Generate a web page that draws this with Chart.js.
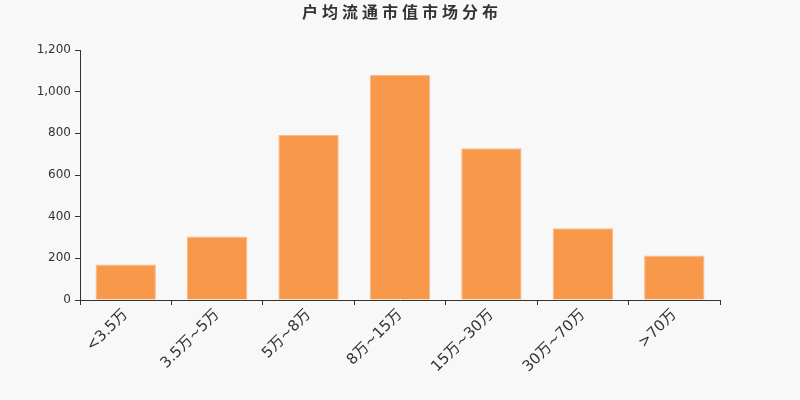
<!DOCTYPE html>
<html>
<head>
<meta charset="utf-8">
<script src="https://cdn.jsdelivr.net/npm/chart.js@4/dist/chart.umd.min.js"></script>
<style>
  body { margin: 0; background: #f8f8f8; }
  #wrap { width: 800px; height: 400px; }
</style>
</head>
<body>
<div id="wrap"><canvas id="marketChart" width="800" height="400"></canvas></div>
<script>
// Chart data
const categories = ['<3.5万', '3.5万~5万', '5万~8万', '8万~15万', '15万~30万', '30万~70万', '>70万'];
const holderCounts = [171, 305, 792, 1080, 728, 344, 214];
const yTicks = [0, 200, 400, 600, 800, 1000, 1200];
const chartTitle = '户均流通市值市场分布';

const FONT = '"DejaVu Sans", "Noto Sans CJK SC", sans-serif';

// background + spaced-out title (Chart.js title has no letter spacing)
const decorPlugin = {
    id: 'decor',
    beforeDraw(chart) {
        const c = chart.ctx;
        c.save();
        c.fillStyle = '#f8f8f8';
        c.fillRect(0, 0, chart.width, chart.height);
        c.restore();
    },
    afterDraw(chart) {
        const c = chart.ctx;
        c.save();
        c.font = 'bold 16px ' + FONT;
        c.fillStyle = '#333';
        c.textBaseline = 'middle';
        c.textAlign = 'left';
        c.letterSpacing = '4px';
        const w = c.measureText(chartTitle).width - 4;
        c.fillText(chartTitle, chart.width / 2 - w / 2, 14);
        c.restore();
    }
};

const ctx = document.getElementById('marketChart').getContext('2d');
const marketChart = new Chart(ctx, {
    type: 'bar',
    data: {
        labels: categories,
        datasets: [{
            data: holderCounts,
            backgroundColor: '#f7984a',
            borderColor: '#fbb886',
            borderWidth: 1,
            categoryPercentage: 1,
            barPercentage: 0.66
        }]
    },
    options: {
        responsive: false,
        animation: false,
        layout: { padding: { left: 0, right: 80, top: 50, bottom: 0 } },
        plugins: {
            legend: { display: false },
            tooltip: { enabled: false },
            title: { display: false }
        },
        scales: {
            x: {
                border: { color: '#333', width: 1 },
                grid: { display: true, drawOnChartArea: false, offset: true, tickLength: 5, color: '#333' },
                ticks: {
                    color: '#333',
                    font: { family: FONT, size: 15 },
                    minRotation: 45,
                    maxRotation: 45,
                    padding: 1
                },
                afterFit(scale) { scale.height = 100; }
            },
            y: {
                min: 0,
                max: 1200,
                afterBuildTicks(scale) { scale.ticks = yTicks.map(v => ({ value: v })); },
                border: { color: '#333', width: 1 },
                grid: { display: true, drawOnChartArea: false, tickLength: 5, color: '#333' },
                ticks: {
                    color: '#333',
                    font: { family: FONT, size: 12 },
                    padding: 4,
                    callback: v => v.toLocaleString('en-US')
                },
                afterFit(scale) { scale.width = 80; }
            }
        }
    },
    plugins: [decorPlugin]
});
</script>
</body>
</html>
